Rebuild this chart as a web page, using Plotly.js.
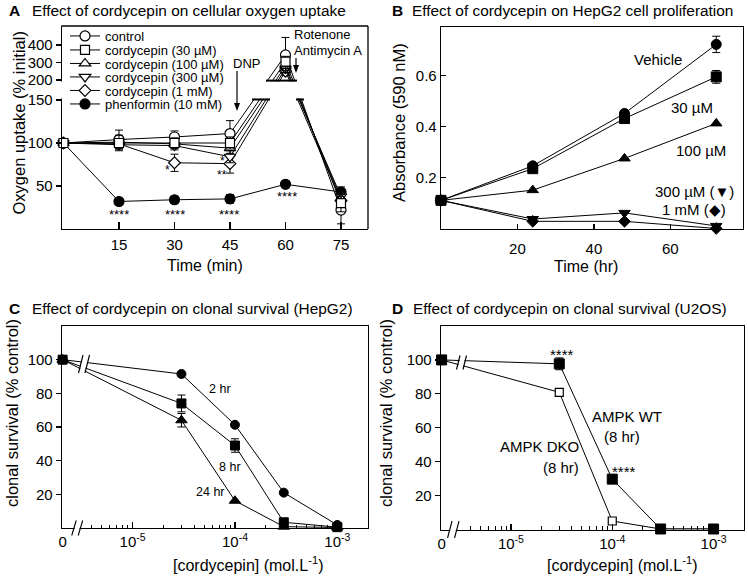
<!DOCTYPE html>
<html>
<head>
<meta charset="utf-8">
<script src="https://cdn.plot.ly/plotly-3.0.1.min.js"></script>
<style>
html,body{margin:0;padding:0;background:#fff;}
#chart{width:748px;height:576px;}
</style>
</head>
<body>
<div id="chart"></div>
<script>
// ================= DATA =================
// Panel A – oxygen uptake (% initial) vs time (min)
const timeA = [0, 15, 30, 45, 60, 75];
const controlA  = [100, 104, 107, 111, 343, 22];
const cord30A   = [100, 100, 100, 100, 305, 30];
const cord100A  = [100, 101, 99, 94, 280, 35];
const cord300A  = [100, 98, 97, 84, 265, 38];
const cord1mA   = [100, 99, 77, 76, 250, 33];
const phenA     = [100, 32, 34, 35, 52, 43];
const controlErrA = [0, 11, 7, 15, 100, 16];
const cord30ErrA  = [0, 9, 6, 7, 30, 10];
const cord100ErrA = [0, 6, 5, 6, 25, 8];
const cord300ErrA = [0, 5, 5, 7, 25, 8];
const cord1mErrA  = [0, 5, 10, 11, 25, 8];
const phenErrA    = [0, 2, 4, 5, 2, 6];
const namesA = ['control', 'cordycepin (30 µM)', 'cordycepin (100 µM)', 'cordycepin (300 µM)', 'cordycepin (1 mM)', 'phenformin (10 mM)'];
const xTicksA = [15, 30, 45, 60, 75];
const yTicksA = [50, 100, 150, 200, 300, 400];

// Panel B – absorbance (590 nM) vs time (hr)
const timeB = [0, 24, 48, 72];
const vehicleB = [0.112, 0.247, 0.452, 0.722];
const c30B     = [0.112, 0.236, 0.432, 0.595];
const c100B    = [0.112, 0.152, 0.276, 0.413];
const c300B    = [0.112, 0.039, 0.063, 0.012];
const c1mB     = [0.112, 0.030, 0.030, 0.002];
const vehicleErrB = [0, 0.006, 0.008, 0.032];
const c30ErrB     = [0, 0.005, 0.008, 0.025];
const xTicksB = [20, 40, 60];
const yTicksB = [0.2, 0.4, 0.6];

// Panel C – clonal survival (% control) HepG2 vs [cordycepin] (mol/L)
const concC = [0, 3e-5, 1e-4, 3e-4, 1e-3];
const hr2C  = [100, 91.5, 61.3, 21, 1.8];
const hr8C  = [100, 74, 49, 3.4, 0.5];
const hr24C = [100, 64, 16.2, 0.8, 0.3];
const hr8ErrC  = [0, 5, 4, 0, 0];
const hr24ErrC = [0, 4, 0, 0, 0];

// Panel D – clonal survival (% control) U2OS
const concD = [0, 3e-5, 1e-4, 3e-4, 1e-3];
const wtD  = [100, 97.7, 29.7, 0.3, 0.3];
const dkoD = [100, 80.9, 5, 0.3, 0.3];
const wtErrD = [0, 3.5, 0, 0, 0];

const yTicksCD = [20, 40, 60, 80, 100];
const logTickVals = [1e-5, 1e-4, 1e-3];
const logTickText = ['0', '10<sup>-5</sup>', '10<sup>-4</sup>', '10<sup>-3</sup>'];
const logMinor = [4e-6,5e-6,6e-6,7e-6,8e-6,9e-6, 2e-5,3e-5,4e-5,5e-5,6e-5,7e-5,8e-5,9e-5, 2e-4,3e-4,4e-4,5e-4,6e-4,7e-4,8e-4,9e-4];

// ================= helpers =================
const W = 748, H = 576;
const px = v => v / W;
const py = v => 1 - v / H;

// broken y axis of panel A: 0–150 linear, gap, 200–500 compressed
const GAP_A = 23.3, HIGH_SCALE_A = 0.2035;
function brk(v) {
  if (v <= 150) return v;
  if (v >= 200) return 150 + GAP_A + (v - 200) * HIGH_SCALE_A;
  return 150 + (v - 150) / 50 * GAP_A;
}
// position used for the "0" concentration on the broken log axes
const ZERO = 2.07e-6;
const toLogX = arr => arr.map(c => c === 0 ? ZERO : c);

const BLACK = '#000';
function errArr(vals, errs) {
  return {type: 'data', array: errs, visible: true, color: BLACK, thickness: 1, width: 4};
}

const traces = [];

// ---- Panel A ----
const specA = [
  {y: controlA, e: controlErrA, sym: 'circle', fill: '#fff', size: 10},
  {y: cord30A, e: cord30ErrA, sym: 'square', fill: '#fff', size: 9},
  {y: cord100A, e: cord100ErrA, sym: 'triangle-up', fill: '#fff', size: 10},
  {y: cord300A, e: cord300ErrA, sym: 'triangle-down', fill: '#fff', size: 10},
  {y: cord1mA, e: cord1mErrA, sym: 'diamond', fill: '#fff', size: 9},
  {y: phenA, e: phenErrA, sym: 'circle', fill: '#000', size: 10}
];
[5, 4, 3, 2, 0, 1].forEach(i => {
  const s = specA[i];
  traces.push({
    type: 'scatter', mode: 'lines+markers', name: namesA[i],
    legend: i === 0 ? 'legend' : 'legend' + (i + 1),
    x: timeA, y: s.y.map(brk), customdata: s.y,
    hovertemplate: '%{x} min: %{customdata}%<extra></extra>',
    xaxis: 'x', yaxis: 'y', cliponaxis: false,
    line: {color: BLACK, width: 1},
    marker: {symbol: s.sym, size: s.size, color: s.fill, line: {color: BLACK, width: 1.2}},
    error_y: {type: 'data', symmetric: false,
      array: s.y.map((v, k) => brk(v + s.e[k]) - brk(v)),
      arrayminus: s.y.map((v, k) => brk(v) - brk(v - s.e[k])),
      color: BLACK, thickness: 1, width: 4}
  });
});

// ---- Panel B ----
const specB = [
  {n: 'Vehicle', y: vehicleB, e: vehicleErrB, sym: 'circle', size: 10},
  {n: '100 µM', y: c100B, e: null, sym: 'triangle-up', size: 10},
  {n: '300 µM', y: c300B, e: null, sym: 'triangle-down', size: 10},
  {n: '1 mM', y: c1mB, e: null, sym: 'diamond', size: 9},
  {n: '30 µM', y: c30B, e: c30ErrB, sym: 'square', size: 10}
];
specB.forEach(s => {
  const t = {type: 'scatter', mode: 'lines+markers', name: s.n, showlegend: false,
    x: timeB, y: s.y, xaxis: 'x2', yaxis: 'y2', cliponaxis: false,
    line: {color: BLACK, width: 1},
    marker: {symbol: s.sym, size: s.size, color: BLACK, line: {color: BLACK, width: 1}}};
  if (s.e) t.error_y = errArr(s.y, s.e);
  traces.push(t);
});

// ---- Panel C ----
const specC = [
  {n: '2 hr', y: hr2C, e: null, sym: 'circle', size: 9},
  {n: '8 hr', y: hr8C, e: hr8ErrC, sym: 'square', size: 9},
  {n: '24 hr', y: hr24C, e: hr24ErrC, sym: 'triangle-up', size: 10}
];
specC.forEach(s => {
  const t = {type: 'scatter', mode: 'lines+markers', name: s.n, showlegend: false,
    x: toLogX(concC), y: s.y, xaxis: 'x3', yaxis: 'y3', cliponaxis: false,
    line: {color: BLACK, width: 1},
    marker: {symbol: s.sym, size: s.size, color: BLACK, line: {color: BLACK, width: 1}}};
  if (s.e) t.error_y = errArr(s.y, s.e);
  traces.push(t);
});

// ---- Panel D ----
traces.push({type: 'scatter', mode: 'lines+markers', name: 'AMPK DKO (8 hr)', showlegend: false,
  x: toLogX(concD), y: dkoD, xaxis: 'x4', yaxis: 'y4', cliponaxis: false,
  line: {color: BLACK, width: 1},
  marker: {symbol: 'square', size: 8, color: '#fff', line: {color: BLACK, width: 1.2}}});
traces.push({type: 'scatter', mode: 'lines+markers', name: 'AMPK WT (8 hr)', showlegend: false,
  x: toLogX(concD), y: wtD, xaxis: 'x4', yaxis: 'y4', cliponaxis: false,
  line: {color: BLACK, width: 1},
  marker: {symbol: 'square', size: 10, color: BLACK, line: {color: BLACK, width: 1}},
  error_y: errArr(wtD, wtErrD)});

// ================= layout =================
const axisBase = {showgrid: false, zeroline: false, showline: true, linecolor: BLACK, linewidth: 1.3,
  tickcolor: BLACK, tickwidth: 1.2, tickfont: {size: 15, color: BLACK}, fixedrange: true, tickmode: 'array'};

function txt(text, x, y, size, extra) {
  return Object.assign({text: text, x: px(x), y: py(y), xref: 'paper', yref: 'paper', showarrow: false,
    xanchor: 'center', yanchor: 'middle', font: {size: size, color: BLACK}}, extra || {});
}
function seg(x0, y0, x1, y1, w) {
  return {type: 'line', xref: 'paper', yref: 'paper', x0: px(x0), y0: py(y0), x1: px(x1), y1: py(y1),
    line: {color: BLACK, width: w || 1.3}, layer: 'above'};
}
// vertical downward arrow drawn as a shaft plus a filled head
function downArrow(x, yTail, yHead) {
  const head = 'M ' + px(x) + ',' + py(yHead) + ' L ' + px(x - 3) + ',' + py(yHead - 8) +
    ' L ' + px(x + 3) + ',' + py(yHead - 8) + ' Z';
  return [seg(x, yTail, x, yHead - 6, 1.2),
    {type: 'path', xref: 'paper', yref: 'paper', path: head, fillcolor: BLACK, line: {width: 0}, layer: 'above'}];
}
function whiteRect(x0, y0, x1, y1) {
  return {type: 'rect', xref: 'paper', yref: 'paper', x0: px(x0), y0: py(y0), x1: px(x1), y1: py(y1),
    fillcolor: '#fff', line: {width: 0}, layer: 'above'};
}
function breakMark(cx, cy, h, gap, slant) {
  const hs = h / 2, d = slant / 2;
  const a = [cx - gap / 2 - d, cy + hs, cx - gap / 2 + d, cy - hs];
  const b = [cx + gap / 2 - d, cy + hs, cx + gap / 2 + d, cy - hs];
  const poly = 'M ' + px(a[0] + 0.8) + ',' + py(a[1]) + ' L ' + px(a[2] + 0.8) + ',' + py(a[3]) +
    ' L ' + px(b[2] - 0.8) + ',' + py(b[3]) + ' L ' + px(b[0] - 0.8) + ',' + py(b[1]) + ' Z';
  return [
    {type: 'path', xref: 'paper', yref: 'paper', path: poly, fillcolor: '#fff', line: {width: 0}, layer: 'above'},
    seg(a[0], a[1], a[2], a[3], 1.1), seg(b[0], b[1], b[2], b[3], 1.1)
  ];
}

const shapes = [
  // panel A frame (top + right)
  seg(61.4, 26, 368, 26), seg(368, 26, 368, 229),
  // panel A axis break gap and cut marks
  whiteRect(58.5, 81.6, 366.5, 98.6),
  seg(252, 99.5, 270, 99.5, 2), seg(296, 99.5, 304, 99.5, 2), seg(266, 80.6, 297, 80.6, 2)
].concat(
  downArrow(237, 71, 111),               // DNP
  downArrow(296, 58, 73),                // rotenone / antimycin A
  breakMark(77.2, 528, 15, 6.5, 4.5),     // C x axis
  breakMark(84, 364, 18, 6.5, 4.5),       // C lines
  breakMark(453.3, 529.5, 17, 7, 4.5),    // D x axis
  breakMark(461.5, 362.5, 14, 6.5, 3.5)   // D lines
);

const annotations = [
  // panel letters and titles
  txt('<b>A</b>', 7, 10, 15.5, {xanchor: 'left'}),
  txt('Effect of cordycepin on cellular oxygen uptake', 30, 10, 15.4, {xanchor: 'left'}),
  txt('<b>B</b>', 390, 10, 15.5, {xanchor: 'left'}),
  txt('Effect of cordycepin on HepG2 cell proliferation', 409.7, 10, 15.4, {xanchor: 'left'}),
  txt('<b>C</b>', 7, 308, 15.5, {xanchor: 'left'}),
  txt('Effect of cordycepin on clonal survival (HepG2)', 30, 308, 15.4, {xanchor: 'left'}),
  txt('<b>D</b>', 390, 308, 15.5, {xanchor: 'left'}),
  txt('Effect of cordycepin on clonal survival (U2OS)', 410.7, 308, 15.4, {xanchor: 'left'}),
  // axis titles
  txt('Oxygen uptake (% initial)', 18, 123.5, 16.5, {textangle: -90}),
  txt('Time (min)', 205, 265, 16),
  txt('Absorbance (590 nM)', 399, 123, 16.5, {textangle: -90}),
  txt('Time (hr)', 586, 266, 16),
  txt('clonal survival (% control)', 12, 413, 16.5, {textangle: -90}),
  txt('[cordycepin] (mol.L<sup>-1</sup>)', 248, 564, 16),
  txt('clonal survival (% control)', 386, 413, 16.5, {textangle: -90}),
  txt('[cordycepin] (mol.L<sup>-1</sup>)', 622, 564, 16),
  // panel A notes
  txt('DNP', 246, 63, 13),
  txt('Rotenone', 291.7, 35, 13, {xanchor: 'left'}),
  txt('Antimycin A', 291.7, 50, 13, {xanchor: 'left'}),
  txt('*', 167.7, 170, 12),
  txt('*', 222.7, 161, 12),
  txt('**', 221.7, 175, 12),
  txt('****', 119.3, 215, 13),
  txt('****', 175, 214.5, 13),
  txt('****', 229.3, 214, 13),
  txt('****', 286.7, 197, 13),
  // panel B labels
  txt('Vehicle', 657.7, 59.3, 15),
  txt('30 µM', 691.5, 107.3, 15),
  txt('100 µM', 700.7, 150, 15),
  txt('300 µM (▼)', 694.5, 191.7, 15),
  txt('1 mM (◆)', 694, 209, 15),
  // panel C labels
  txt('2 hr', 220, 389.3, 12.5),
  txt('8 hr', 230, 467.3, 12.5),
  txt('24 hr', 210.7, 491.7, 12.5),
  // panel D labels
  txt('AMPK WT', 627.3, 416.7, 15),
  txt('(8 hr)', 622.3, 436.7, 15),
  txt('AMPK DKO', 539, 446, 15),
  txt('(8 hr)', 560.7, 467.3, 15),
  txt('****', 561.7, 354, 15),
  txt('****', 624, 471, 15)
];

const layout = {
  width: W, height: H, margin: {l: 0, r: 0, t: 0, b: 0, pad: 0},
  paper_bgcolor: '#fff', plot_bgcolor: 'rgba(0,0,0,0)',
  font: {family: 'Liberation Sans, Arial, sans-serif', color: BLACK, size: 13},
  showlegend: true,
  xaxis: Object.assign({}, axisBase, {domain: [px(62), px(368)], range: [-0.4, 82.3], anchor: 'y',
    tickvals: xTicksA, ticks: 'inside', ticklen: 7, ticklabelstandoff: 2}),
  yaxis: Object.assign({}, axisBase, {domain: [py(229), py(26)], range: [0, 236.05], anchor: 'x',
    tickvals: yTicksA.map(brk), ticktext: yTicksA.map(String), ticks: 'outside', ticklen: 5}),
  xaxis2: Object.assign({}, axisBase, {domain: [px(441), px(743)], range: [0, 79], anchor: 'y2',
    tickvals: xTicksB, ticks: 'inside', ticklen: 5, mirror: true, ticklabelstandoff: 6}),
  yaxis2: Object.assign({}, axisBase, {domain: [py(229), py(27)], range: [0, 0.79], anchor: 'x2',
    tickvals: yTicksB, ticktext: yTicksB.map(v => v.toFixed(1)), ticks: 'inside', ticklen: 5, mirror: true}),
  xaxis3: Object.assign({}, axisBase, {type: 'log', domain: [px(62), px(368)], range: [-5.69, -2.70], anchor: 'y3',
    tickvals: [ZERO].concat(logTickVals), ticktext: logTickText, ticks: 'inside', ticklen: 6, mirror: true,
    minor: {tickmode: 'array', tickvals: logMinor, ticks: 'inside', ticklen: 3.5, tickcolor: BLACK, tickwidth: 1}}),
  yaxis3: Object.assign({}, axisBase, {domain: [py(528), py(326)], range: [0, 120], anchor: 'x3',
    tickvals: yTicksCD, ticks: 'outside', ticklen: 5, mirror: true}),
  xaxis4: Object.assign({}, axisBase, {type: 'log', domain: [px(441), px(744)], range: [-5.69, -2.70], anchor: 'y4',
    tickvals: [ZERO].concat(logTickVals), ticktext: logTickText, ticks: 'inside', ticklen: 6, mirror: true,
    minor: {tickmode: 'array', tickvals: logMinor, ticks: 'inside', ticklen: 3.5, tickcolor: BLACK, tickwidth: 1}}),
  yaxis4: Object.assign({}, axisBase, {domain: [py(529.5), py(326)], range: [0, 120], anchor: 'x4',
    tickvals: yTicksCD, ticks: 'outside', ticklen: 5, mirror: true}),
  shapes: shapes,
  annotations: annotations
};
// six single-entry legends stacked tightly inside panel A
const legendRowsA = [36, 50, 63.5, 77, 90.5, 104];
legendRowsA.forEach((row, i) => {
  layout[i === 0 ? 'legend' : 'legend' + (i + 1)] = {
    x: px(65), xanchor: 'left', y: py(row), yanchor: 'middle', bgcolor: 'rgba(0,0,0,0)',
    borderwidth: 0, font: {size: 13, color: BLACK}, itemwidth: 30
  };
});

Plotly.newPlot('chart', traces, layout, {staticPlot: true, displayModeBar: false});
</script>
</body>
</html>
